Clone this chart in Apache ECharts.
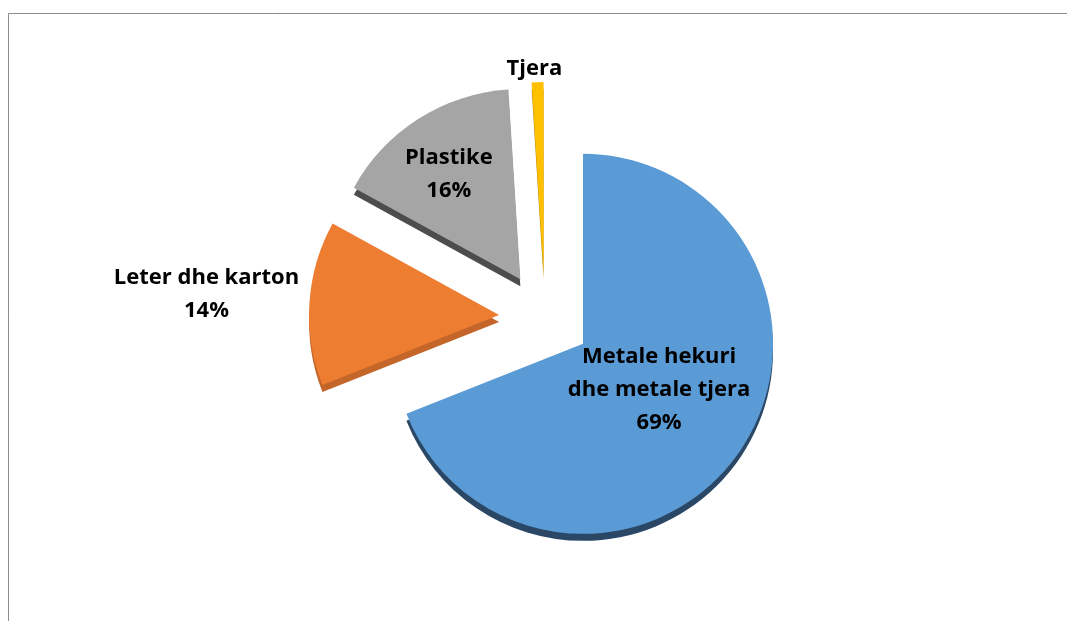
<!DOCTYPE html>
<html>
<head>
<meta charset="utf-8">
<script src="https://cdn.jsdelivr.net/npm/echarts@6/dist/echarts.min.js"></script>
<style>
html,body{margin:0;padding:0;background:#fff;}
#chart{width:1067px;height:621px;}
</style>
</head>
<body>
<div id="chart"></div>
<script>
const categories = ['Metale hekuri\ndhe metale tjera', 'Leter dhe karton', 'Plastike', 'Tjera'];
const values = [69, 14, 16, 1];
const topColors = ['#5B9BD5', '#ED7D31', '#A5A5A5', '#FFC000'];
const sideColors = ['#2A4766', '#C4652A', '#4D4D4D', '#B88A00'];
const labelPositions = ['inside', 'outside', 'inside', 'outside'];
const showPercent = [true, true, true, false];

const chart = echarts.init(document.getElementById('chart'), null, {renderer: 'canvas'});

const topData = categories.map((c, i) => ({
  name: c,
  value: values[i],
  selected: true,
  itemStyle: {color: topColors[i]},
  label: {
    position: labelPositions[i],
    formatter: showPercent[i] ? '{b}\n{d}%' : '{b}'
  }
}));
const sideData = categories.map((c, i) => ({
  name: c,
  value: values[i],
  selected: true,
  itemStyle: {color: sideColors[i]}
}));

const labelAdjust = [
  {dx: -5, dy: -9},
  {dx: -90, dy: -8},
  {dx: -19, dy: -22},
  {dx: 2, dy: -5}
];

chart.setOption({
  animation: false,
  backgroundColor: '#ffffff',
  graphic: [{
    type: 'rect',
    shape: {x: 8.5, y: 13.5, width: 1200, height: 800},
    style: {fill: 'none', stroke: '#8c8c8c', lineWidth: 1},
    silent: true
  }],
  series: [
    {
      type: 'pie',
      silent: true,
      center: [545, 325],
      radius: [0, 190],
      startAngle: 90,
      clockwise: true,
      selectedMode: 'multiple',
      selectedOffset: 46,
      label: {show: false},
      labelLine: {show: false},
      emphasis: {disabled: true},
      data: sideData
    },
    {
      type: 'pie',
      center: [545, 318],
      radius: [0, 190],
      startAngle: 90,
      clockwise: true,
      selectedMode: 'multiple',
      selectedOffset: 46,
      emphasis: {disabled: true},
      label: {
        show: true,
        color: '#000',
        fontFamily: 'Open Sans',
        fontWeight: 'bold',
        fontSize: 22,
        lineHeight: 33,
        align: 'center'
      },
      labelLine: {show: false, length: 8, length2: 0},
      labelLayout: function (p) {
        const a = labelAdjust[p.dataIndex];
        return {dx: a.dx, dy: a.dy, align: 'center'};
      },
      data: topData
    }
  ]
});
</script>
</body>
</html>
